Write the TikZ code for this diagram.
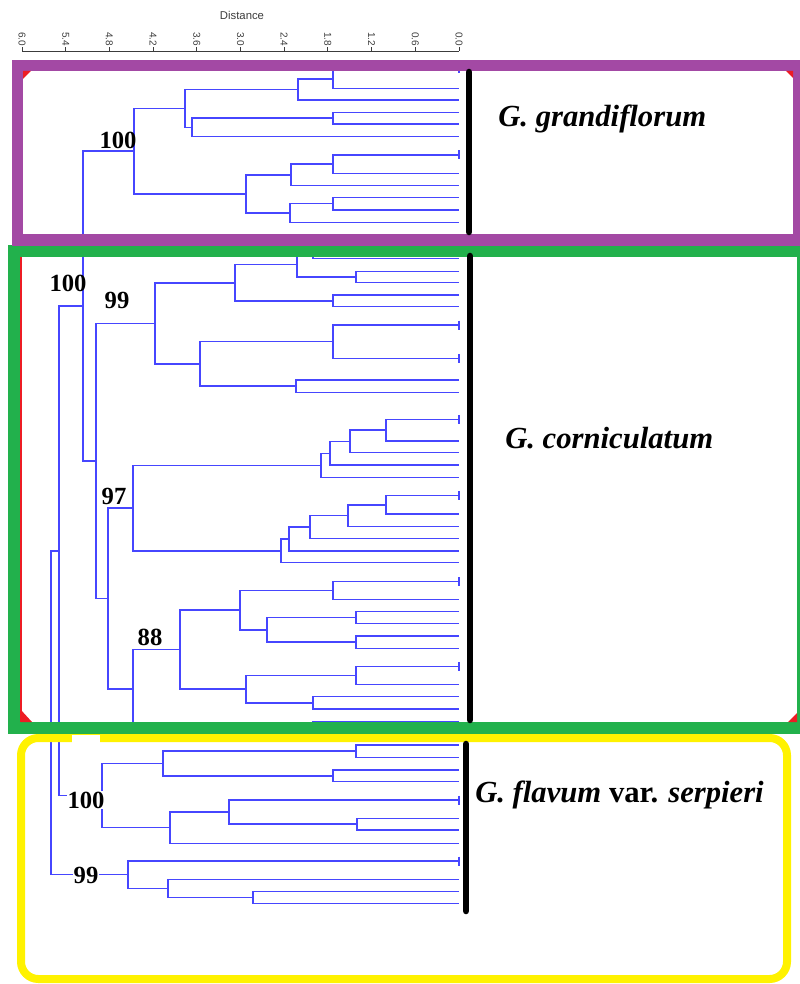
\documentclass[tikz,border=0pt]{standalone}
\usepackage{fontspec}
\setmainfont{Liberation Serif}
\newfontfamily\axisfont{Liberation Sans}
\definecolor{treeblue}{RGB}{70,70,255}
\definecolor{boxpurple}{RGB}{163,73,164}
\definecolor{boxgreen}{RGB}{34,177,76}
\definecolor{boxyellow}{RGB}{255,242,0}
\definecolor{markred}{RGB}{237,28,36}
\definecolor{axisgray}{RGB}{60,60,60}
\tikzset{
  tree/.style={draw=treeblue, line width=1.15pt},
  bar/.style={draw=black, line width=4.9pt, line cap=round},
  boot/.style={font=\fontsize{18.5}{20}\selectfont\bfseries, inner sep=0.5pt},
  bootw/.style={boot, fill=white},
  species/.style={font=\fontsize{23}{26}\selectfont\bfseries\itshape, anchor=base west, inner sep=0pt},
  ticklab/.style={font=\axisfont\fontsize{7.5}{8}\selectfont, text=axisgray, rotate=-90, inner sep=0pt},
}
\begin{document}
\begin{tikzpicture}[x=0.75pt, y=-0.75pt]
\useasboundingbox (0,0) rectangle (799,984);
% ---------------- axis ----------------
\node[font=\axisfont\fontsize{8.5}{9}\selectfont, text=axisgray] (axtitle) at (242,15) {Distance};
\draw[axisgray, line width=0.7pt] (22,51) -- (459,51);
\foreach \i/\lab in {0/6.0,1/5.4,2/4.8,3/4.2,4/3.6,5/3.0,6/2.4,7/1.8,8/1.2,9/0.6,10/0.0} {
  \draw[axisgray, line width=0.7pt] ({22+\i*43.7},51) -- ({22+\i*43.7},47);
  \node[ticklab] (tl\i) at ({22+\i*43.7},39) {\lab};
}
% ---------------- G. grandiflorum ----------------
\draw[tree] (459,69) -- (333,69) -- (333,88.3) -- (459,88.3);
\draw[tree] (333,79) -- (298,79) -- (298,100) -- (459,100);
\draw[tree] (459,112.3) -- (333,112.3) -- (333,124) -- (459,124);
\draw[tree] (333,118) -- (192,118) -- (192,136.7) -- (459,136.7);
\draw[tree] (298,89.5) -- (185,89.5) -- (185,127.4) -- (192,127.4);
\draw[tree] (459,155) -- (333,155) -- (333,173.3) -- (459,173.3);
\draw[tree] (333,164.2) -- (291,164.2) -- (291,185.7) -- (459,185.7);
\draw[tree] (459,197.3) -- (333,197.3) -- (333,210) -- (459,210);
\draw[tree] (333,203.7) -- (290,203.7) -- (290,222.3) -- (459,222.3);
\draw[tree] (291,175) -- (246,175) -- (246,213) -- (290,213);
\draw[tree] (185,108.5) -- (134,108.5) -- (134,194) -- (246,194);
% ---------------- G. corniculatum ----------------
\draw[tree] (459,246.5) -- (313,246.5) -- (313,258.3) -- (459,258.3);
\draw[tree] (459,271.3) -- (356,271.3) -- (356,282.7) -- (459,282.7);
\draw[tree] (313,252.4) -- (297,252.4) -- (297,277) -- (356,277);
\draw[tree] (459,295) -- (333,295) -- (333,306.7) -- (459,306.7);
\draw[tree] (297,264.7) -- (235,264.7) -- (235,300.8) -- (333,300.8);
\draw[tree] (459,325) -- (333,325) -- (333,358.3) -- (459,358.3);
\draw[tree] (459,380) -- (296,380) -- (296,392.3) -- (459,392.3);
\draw[tree] (333,341.7) -- (200,341.7) -- (200,386.2) -- (296,386.2);
\draw[tree] (235,282.8) -- (155,282.8) -- (155,364) -- (200,364);
% 97 clade
\draw[tree] (459,419.3) -- (386,419.3) -- (386,441) -- (459,441);
\draw[tree] (386,430.2) -- (350,430.2) -- (350,452.7) -- (459,452.7);
\draw[tree] (350,441.5) -- (330,441.5) -- (330,465) -- (459,465);
\draw[tree] (330,453.3) -- (321,453.3) -- (321,477.3) -- (459,477.3);
\draw[tree] (459,495.7) -- (386,495.7) -- (386,514) -- (459,514);
\draw[tree] (386,504.9) -- (348,504.9) -- (348,526.5) -- (459,526.5);
\draw[tree] (348,515.7) -- (310,515.7) -- (310,538.3) -- (459,538.3);
\draw[tree] (310,527) -- (289,527) -- (289,551) -- (459,551);
\draw[tree] (289,539) -- (281,539) -- (281,562.7) -- (459,562.7);
\draw[tree] (321,465.3) -- (133,465.3) -- (133,550.9) -- (281,550.9);
% 88 clade
\draw[tree] (459,581.7) -- (333,581.7) -- (333,599.3) -- (459,599.3);
\draw[tree] (459,611.7) -- (356,611.7) -- (356,623.3) -- (459,623.3);
\draw[tree] (459,636) -- (356,636) -- (356,648.3) -- (459,648.3);
\draw[tree] (356,617.5) -- (267,617.5) -- (267,642.2) -- (356,642.2);
\draw[tree] (333,590.5) -- (240,590.5) -- (240,629.9) -- (267,629.9);
\draw[tree] (459,666.7) -- (356,666.7) -- (356,684.3) -- (459,684.3);
\draw[tree] (459,696.7) -- (313,696.7) -- (313,709) -- (459,709);
\draw[tree] (356,675.5) -- (246,675.5) -- (246,702.9) -- (313,702.9);
\draw[tree] (240,610.2) -- (180,610.2) -- (180,689.2) -- (246,689.2);
\draw[tree] (459,721.7) -- (313,721.7) -- (313,734) -- (459,734);
\draw[tree] (180,649.7) -- (133,649.7) -- (133,727.9) -- (313,727.9);
\draw[tree] (133,508.1) -- (108,508.1) -- (108,688.8) -- (133,688.8);
\draw[tree] (155,323.4) -- (96,323.4) -- (96,598.5) -- (108,598.5);
\draw[tree] (134,151.2) -- (83,151.2) -- (83,461) -- (96,461);
% ---------------- G. flavum var. serpieri ----------------
\draw[tree] (459,745) -- (356,745) -- (356,757.3) -- (459,757.3);
\draw[tree] (459,770) -- (333,770) -- (333,781.7) -- (459,781.7);
\draw[tree] (356,751.2) -- (163,751.2) -- (163,775.9) -- (333,775.9);
\draw[tree] (459,818.3) -- (357,818.3) -- (357,830) -- (459,830);
\draw[tree] (459,800) -- (229,800) -- (229,824.2) -- (357,824.2);
\draw[tree] (229,812.1) -- (170,812.1) -- (170,843.3) -- (459,843.3);
\draw[tree] (163,763.5) -- (102,763.5) -- (102,827.7) -- (170,827.7);
\draw[tree] (83,306.1) -- (59,306.1) -- (59,795.6) -- (102,795.6);
\draw[tree] (459,891.7) -- (253,891.7) -- (253,903.3) -- (459,903.3);
\draw[tree] (459,879.3) -- (168,879.3) -- (168,897.5) -- (253,897.5);
\draw[tree] (459,861) -- (128,861) -- (128,888.4) -- (168,888.4);
\draw[tree] (59,550.9) -- (51,550.9) -- (51,874.7) -- (128,874.7);
% leaf end ticks
\foreach \yy in {69,155,325,358.3,419.3,495.7,581.7,666.7,800,861}
  \draw[tree] (459,\yy-4.5) -- (459,\yy+4.5);
% ---------------- boxes ----------------
\draw[boxyellow, line width=6pt, rounded corners=13pt] (21,738) rectangle (787,979);
\fill[white] (72,735) rectangle (100,743);
\draw[boxgreen, line width=9.4pt] (14.5,251) rectangle (803,728);
\draw[markred, line width=0.8pt] (21,257) -- (21,722);
\fill[markred] (21,722) -- (21,710) -- (32,722) -- cycle;
\fill[markred] (797,722) -- (797,713) -- (788,722) -- cycle;
\draw[boxpurple, line width=8.25pt] (17.5,65.5) rectangle (798.5,240);
\fill[markred] (23,71) -- (31,71) -- (23,79) -- cycle;
\fill[markred] (793,71) -- (786,71) -- (793,78) -- cycle;
% black bars
\draw[bar] (469,72) -- (469,232);
\draw[bar] (470,256) -- (470,720);
\draw[bar] (466,744) -- (466,911);
% ---------------- labels ----------------
\node[boot] (b1) at (118,140) {100};
\node[boot] (b2) at (68,283) {100};
\node[boot] (b3) at (117,300) {99};
\node[boot] (b4) at (114,496) {97};
\node[boot] (b5) at (150,637) {88};
\node[bootw] (b6) at (86,800) {100};
\node[bootw] (b7) at (86,875) {99};
\node[species] (sp1) at (498,127) {G. grandiflorum};
\node[species] (sp2) at (505,448) {G. corniculatum};
\node[species] (sp3) at (475,802) {G. flavum \upshape var. \itshape serpieri};
\end{tikzpicture}
\end{document}
